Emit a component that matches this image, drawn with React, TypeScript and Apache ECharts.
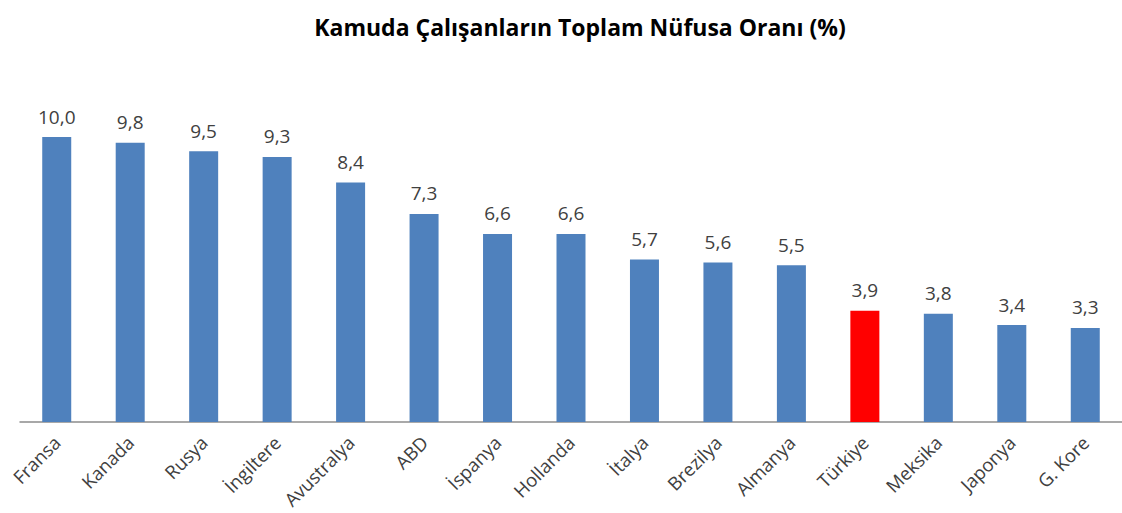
import React, { useEffect, useRef } from "react";
import * as echarts from "echarts";

const categories = ["Fransa", "Kanada", "Rusya", "İngiltere", "Avustralya", "ABD", "İspanya", "Hollanda", "İtalya", "Brezilya", "Almanya", "Türkiye", "Meksika", "Japonya", "G. Kore"];
const values = [10.0, 9.8, 9.5, 9.3, 8.4, 7.3, 6.6, 6.6, 5.7, 5.6, 5.5, 3.9, 3.8, 3.4, 3.3];
const highlight = "Türkiye";
const titleText = "Kamuda Çalışanların Toplam Nüfusa Oranı (%)";

export default function App() {
  const ref = useRef<HTMLDivElement>(null);
  useEffect(() => {
    if (!ref.current) return;
    const chart = echarts.init(ref.current, undefined, { renderer: "svg" });
    const font = "'Open Sans', 'Liberation Sans', sans-serif";
    chart.setOption({
      animation: false,
      backgroundColor: "#ffffff",
      title: {
        text: titleText,
        left: 575,
        textAlign: "center",
        top: 10,
        textStyle: { fontFamily: font, fontSize: 23, fontWeight: "bold", color: "#000000" },
      },
      grid: { left: 20, top: 137, width: 1111, height: 285, containLabel: false },
      xAxis: {
        type: "category",
        data: categories,
        axisLine: { lineStyle: { color: "#8c8c8c", width: 1.5 } },
        axisTick: { show: false },
        axisLabel: { rotate: 45, margin: 17, interval: 0, color: "#404040", fontSize: 18.5, fontFamily: font },
      },
      yAxis: { type: "value", min: 0, max: 10, show: false, splitLine: { show: false } },
      series: [
        {
          type: "bar",
          barWidth: 29,
          data: values.map((v, i) => ({
            value: v,
            itemStyle: { color: categories[i] === highlight ? "#FF0000" : "#4F81BD" },
          })),
          label: {
            show: true,
            position: "top",
            distance: 11,
            color: "#404040",
            fontSize: 19,
            fontFamily: font,
            formatter: (p: any) => p.value.toFixed(1).replace(".", ","),
          },
        },
      ],
    });
    return () => chart.dispose();
  }, []);
  return <div ref={ref} style={{ position: "fixed", left: 0, top: 0, width: 1122, height: 513 }} />;
}
